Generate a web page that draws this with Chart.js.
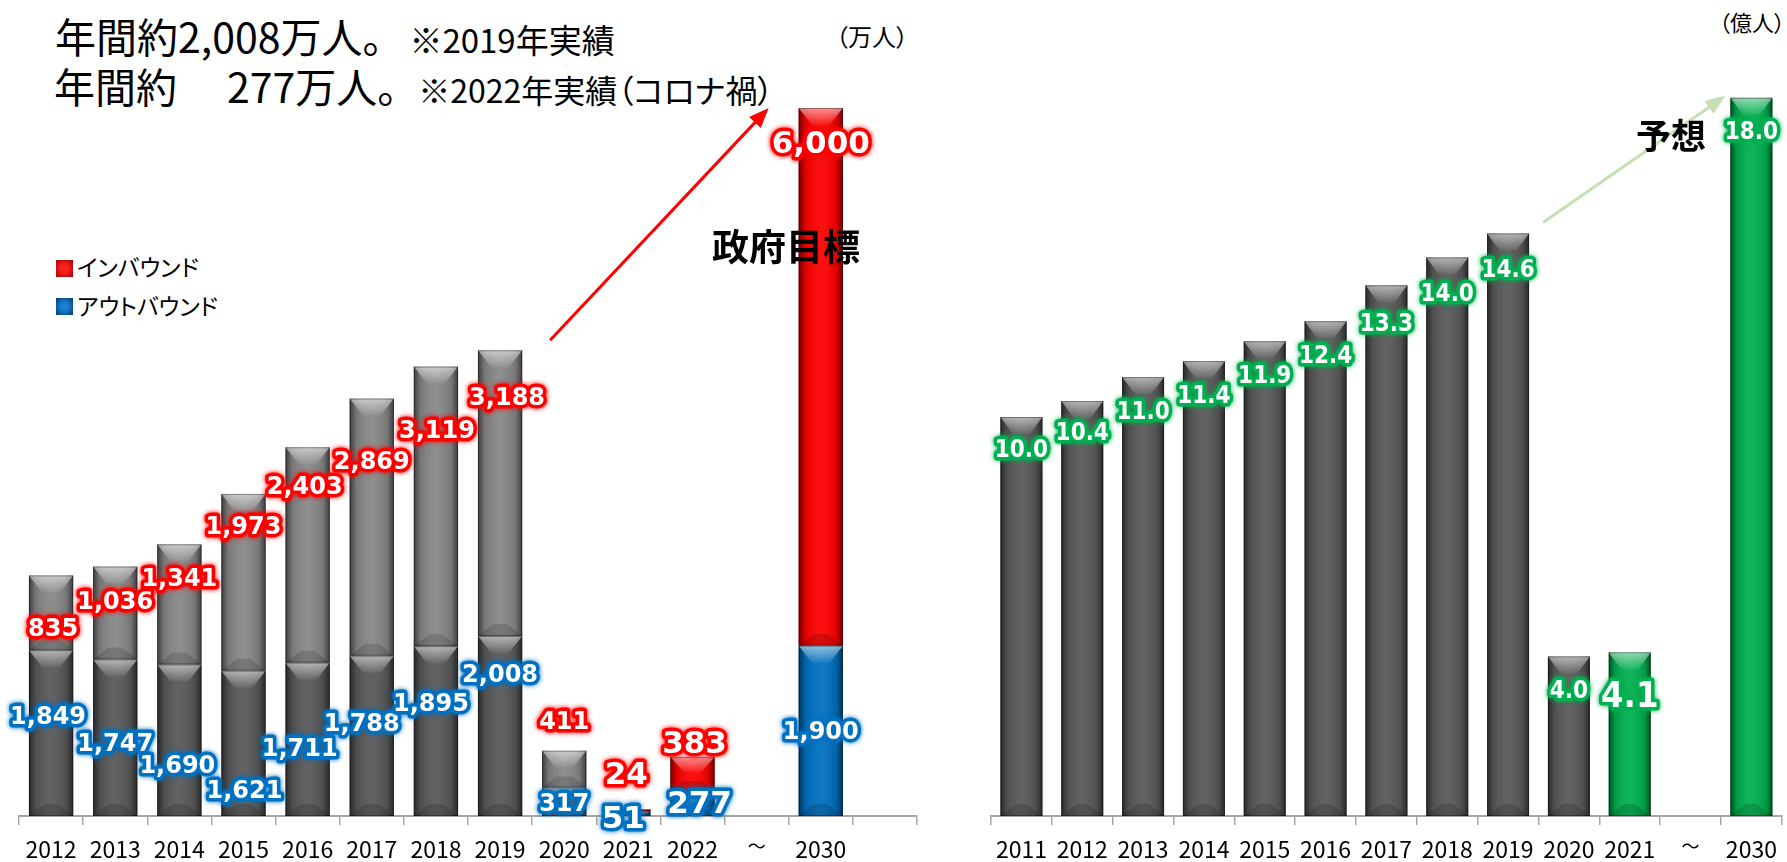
<!DOCTYPE html>
<html lang="ja">
<head>
<meta charset="utf-8">
<script src="https://cdn.jsdelivr.net/npm/chart.js@4.4.0/dist/chart.umd.min.js"></script>
<style>
  html, body { margin: 0; padding: 0; background: #fff; }
  body { width: 1787px; height: 862px; position: relative; overflow: hidden;
         font-family: "Noto Sans CJK JP", "Noto Sans", sans-serif; color: #000; }
  .t { position: absolute; white-space: nowrap; line-height: 1; }
  .box { position: absolute; top: 0; height: 862px; }
  .sq { position: absolute; width: 17px; height: 17px; }
</style>
</head>
<body>

<div class="t" style="left:55px;top:15px;font-size:41px">年間約2,008万人。<span style="font-size:33px;margin-left:6px">※2019年実績</span></div>
<div class="t" style="left:54px;top:65px;font-size:41px">年間約<span style="margin-left:50px">277万人。</span><span style="font-size:32px;margin-left:0;font-feature-settings:'palt'">※2022年実績（コロナ禍）</span></div>

<div class="t" style="left:836px;top:24px;font-size:24px;font-feature-settings:'palt'">（万人）</div>
<div class="t" style="left:1719px;top:10px;font-size:22px;font-feature-settings:'palt'">（億人）</div>

<div class="t" style="left:56px;top:255px;font-size:23px;font-feature-settings:'palt'">
  <div class="sq" style="left:0;top:5px;background:radial-gradient(circle,#ff2020 30%,#a00000 100%)"></div>
  <span style="margin-left:21px">インバウンド</span></div>
<div class="t" style="left:56px;top:294px;font-size:23px;font-feature-settings:'palt'">
  <div class="sq" style="left:0;top:4px;background:radial-gradient(circle,#1a7fd0 30%,#003c70 100%)"></div>
  <span style="margin-left:21px">アウトバウンド</span></div>

<div class="box" style="left:0;width:930px"><canvas id="left" width="930" height="862"></canvas></div>
<div class="box" style="left:940px;width:847px"><canvas id="right" width="847" height="862"></canvas></div>

<div class="t" style="left:712px;top:227px;font-size:37px;font-weight:700">政府目標</div>
<div class="t" style="left:1636px;top:116px;font-size:35px;font-weight:700">予想</div>

<script>
// 訪日・出国者数（万人）
const leftYears = ['2012','2013','2014','2015','2016','2017','2018','2019','2020','2021','2022','～','2030',''];
const outbound = [1849, 1747, 1690, 1621, 1711, 1788, 1895, 2008, 317, 51, 277, null, 1900, null];
const inbound  = [835, 1036, 1341, 1973, 2403, 2869, 3119, 3188, 411, 24, 383, null, 6000, null];

// 右グラフ（億人）
const rightYears = ['2011','2012','2013','2014','2015','2016','2017','2018','2019','2020','2021','～','2030'];
const spending = [10.0, 10.4, 11.0, 11.4, 11.9, 12.4, 13.3, 14.0, 14.6, 4.0, 4.1, null, 18.0];

const GREY_DARK = '#585858', GREY_LIGHT = '#878787';
const RED = '#ff0000', BLUE = '#0070c0', GREEN = '#00b050';

const lowerColors = leftYears.map((y, i) => i < 9 ? GREY_DARK : BLUE);
const upperColors = leftYears.map((y, i) => i < 9 ? GREY_LIGHT : RED);
const rightColors = rightYears.map((y, i) => i < 10 ? GREY_DARK : GREEN);

// label placement (offset from segment top, px)
const labelSpec = {
  left: [
    { ds: 0, color: BLUE, big: [9, 10],
      dy: [67, 85, 102, 121, 87, 69, 59, 40, 17, 9, 14, 0, 87, 0],
      dx: [-3, 0, -2, 1, -8, -10, -5, 0, 0, -5, 7, 0, 0, 0] },
    { ds: 1, color: RED, big: [9, 10, 12],
      dy: [54, 36, 35, 34, 40, 64, 65, 48, -28, -33, -12, 0, 37, 0],
      dx: [2, 0, 0, 0, -3, 0, 1, 7, 0, -2, 2, 0, 0, 0] }
  ],
  right: [
    { ds: 0, color: GREEN, big: [10], decimals: 1,
      dy: [34, 33, 36, 36, 36, 36, 39, 37, 37, 35, 45, 0, 35],
      dx: [0, 0, 0, 0, 0, 0, 0, 0, 0, 0, 0, 0, 0] }
  ]
};

const arrowSpec = {
  left:  { color: '#ff0000', from: [1, 7, 50, -10], to: [1, 12, -30, 0] },
  right: { color: '#c5e0b4', from: [0, 8, 35, -11], to: [0, 12, -5, -2] }
};

function outlined(ctx, text, x, y, size, condensed, color) {
  ctx.save();
  ctx.font = 'bold ' + size + 'px ' + (condensed ? '"DejaVu Sans Condensed", "DejaVu Sans"' : '"DejaVu Sans"');
  ctx.textAlign = 'center';
  ctx.textBaseline = 'middle';
  ctx.lineJoin = 'round';
  ctx.shadowColor = color;
  ctx.shadowBlur = 5;
  ctx.strokeStyle = color;
  ctx.lineWidth = 7;
  ctx.strokeText(text, x, y);
  ctx.shadowBlur = 0;
  ctx.fillStyle = '#fff';
  ctx.fillText(text, x, y);
  ctx.restore();
}

const bevel = {
  id: 'bevel',
  afterDatasetsDraw(chart) {
    const ctx = chart.ctx;
    chart.data.datasets.forEach((ds, di) => {
      chart.getDatasetMeta(di).data.forEach((bar, i) => {
        if (ds.data[i] == null) return;
        const p = bar.getProps(['x', 'y', 'base', 'width'], true);
        const l = p.x - p.width / 2, r = p.x + p.width / 2;
        const top = Math.min(p.y, p.base), h = Math.abs(p.base - p.y);
        if (h < 1) return;
        ctx.save();
        const g = ctx.createLinearGradient(l, 0, r, 0);
        g.addColorStop(0, 'rgba(0,0,0,0.55)');
        g.addColorStop(0.15, 'rgba(0,0,0,0.12)');
        g.addColorStop(0.5, 'rgba(255,255,255,0.06)');
        g.addColorStop(0.85, 'rgba(0,0,0,0.12)');
        g.addColorStop(1, 'rgba(0,0,0,0.55)');
        ctx.fillStyle = g;
        ctx.fillRect(l, top, p.width, h);
        // top bevel
        const bh = Math.min(17, h * 0.45);
        const inset = Math.min(p.width * 0.3, bh * 1.3);
        const gv = ctx.createLinearGradient(0, top, 0, top + bh);
        gv.addColorStop(0, 'rgba(255,255,255,0.55)');
        gv.addColorStop(1, 'rgba(255,255,255,0.05)');
        ctx.beginPath();
        ctx.moveTo(l, top); ctx.lineTo(r, top);
        ctx.lineTo(r - inset, top + bh); ctx.lineTo(l + inset, top + bh);
        ctx.closePath();
        ctx.fillStyle = gv;
        ctx.fill();
        // bottom bevel
        const bb = Math.min(12, h * 0.3);
        ctx.beginPath();
        ctx.moveTo(l, top + h); ctx.lineTo(r, top + h);
        ctx.lineTo(r - bb * 1.3, top + h - bb); ctx.lineTo(l + bb * 1.3, top + h - bb);
        ctx.closePath();
        ctx.fillStyle = 'rgba(0,0,0,0.15)';
        ctx.fill();
        ctx.strokeStyle = 'rgba(0,0,0,0.35)';
        ctx.lineWidth = 1;
        ctx.strokeRect(l + 0.5, top + 0.5, p.width - 1, h - 1);
        ctx.restore();
      });
    });
  },
  afterDraw(chart) {
    const ctx = chart.ctx, id = chart.canvas.id;
    // arrow
    const a = arrowSpec[id];
    const pt = s => {
      const b = chart.getDatasetMeta(s[0]).data[s[1]].getProps(['x', 'y', 'width'], true);
      const edge = s[2] < 0 ? b.x - b.width / 2 : b.x;
      return [edge + s[2], b.y + s[3]];
    };
    const [x0, y0] = pt(a.from), [x1, y1] = pt(a.to);
    const ang = Math.atan2(y1 - y0, x1 - x0), hl = 20, hw = 8;
    ctx.save();
    ctx.strokeStyle = a.color; ctx.fillStyle = a.color; ctx.lineWidth = 3;
    ctx.beginPath();
    ctx.moveTo(x0, y0);
    ctx.lineTo(x1 - Math.cos(ang) * hl * 0.8, y1 - Math.sin(ang) * hl * 0.8);
    ctx.stroke();
    ctx.beginPath();
    ctx.moveTo(x1, y1);
    ctx.lineTo(x1 - Math.cos(ang) * hl - Math.sin(ang) * hw, y1 - Math.sin(ang) * hl + Math.cos(ang) * hw);
    ctx.lineTo(x1 - Math.cos(ang) * hl + Math.sin(ang) * hw, y1 - Math.sin(ang) * hl - Math.cos(ang) * hw);
    ctx.closePath();
    ctx.fill();
    ctx.restore();
    // value labels
    labelSpec[id].forEach(spec => {
      const data = chart.data.datasets[spec.ds].data;
      chart.getDatasetMeta(spec.ds).data.forEach((bar, i) => {
        const v = data[i];
        if (v == null) return;
        const text = spec.decimals ? v.toFixed(spec.decimals) : v.toLocaleString('en-US');
        const big = spec.big.includes(i);
        let size = big ? 31 : 24;
        if (id === 'right') size = big ? 36 : 24;
        outlined(ctx, text, bar.x + spec.dx[i], bar.y + spec.dy[i], size, id === 'right', spec.color);
      });
    });
  }
};

function xAxis() {
  return {
    stacked: true,
    offset: true,
    grid: { offset: true, drawOnChartArea: false, drawTicks: true, tickLength: 9, color: '#a6a6a6', lineWidth: 1.5 },
    border: { color: '#a6a6a6', width: 2 },
    ticks: {
      color: '#000', padding: 10, maxRotation: 0, autoSkip: false,
      font: c => ({ family: '"Noto Sans CJK JP", "Noto Sans", sans-serif', size: c.tick && c.tick.label === '～' ? 18 : 23 })
    },
    afterFit(scale) { scale.height = 46; }
  };
}

new Chart(document.getElementById('left'), {
  type: 'bar',
  data: {
    labels: leftYears,
    datasets: [
      { label: 'アウトバウンド', data: outbound, backgroundColor: lowerColors,
        barPercentage: 0.69, categoryPercentage: 1 },
      { label: 'インバウンド', data: inbound, backgroundColor: upperColors,
        barPercentage: 0.69, categoryPercentage: 1 }
    ]
  },
  options: {
    responsive: false, animation: false,
    layout: { padding: { left: 19, right: 13, top: 99, bottom: 0 } },
    plugins: { legend: { display: false }, tooltip: { enabled: false } },
    scales: {
      x: xAxis(),
      y: { stacked: true, display: false, min: 0, max: 8000 }
    }
  },
  plugins: [bevel]
});

new Chart(document.getElementById('right'), {
  type: 'bar',
  data: {
    labels: rightYears,
    datasets: [
      { label: '億人', data: spending, backgroundColor: rightColors,
        barPercentage: 0.69, categoryPercentage: 1 }
    ]
  },
  options: {
    responsive: false, animation: false,
    layout: { padding: { left: 51, right: 2, top: 18, bottom: 0 } },
    plugins: { legend: { display: false }, tooltip: { enabled: false } },
    scales: {
      x: xAxis(),
      y: { display: false, min: 0, max: 20 }
    }
  },
  plugins: [bevel]
});
</script>
</body>
</html>
